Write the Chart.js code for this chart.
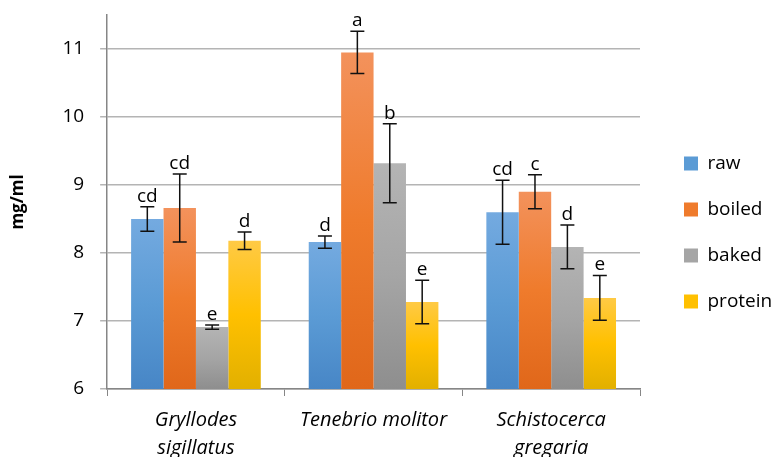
<!DOCTYPE html>
<html>
<head>
<meta charset="utf-8">
<script src="https://cdn.jsdelivr.net/npm/chart.js@4.4.1/dist/chart.umd.min.js"></script>
<style>
  html, body { margin: 0; padding: 0; background: #fff; overflow: hidden; }
  #wrap { width: 774px; height: 457px; overflow: hidden; }
  #box { width: 774px; height: 472px; position: relative; }
</style>
</head>
<body>
<div id="wrap"><div id="box"><canvas id="grafico"></canvas></div></div>
<script>
// dados
const especies = [['Gryllodes', 'sigillatus'], 'Tenebrio molitor', ['Schistocerca', 'gregaria']];
const nomesSeries = ['raw', 'boiled', 'baked', 'protein'];

const valoresRaw = [8.50, 8.16, 8.60];
const valoresBoiled = [8.66, 10.95, 8.90];
const valoresBaked = [6.91, 9.32, 8.09];
const valoresProtein = [8.18, 7.28, 7.34];

const erroRaw = [0.18, 0.09, 0.47];
const erroBoiled = [0.50, 0.31, 0.25];
const erroBaked = [0.03, 0.58, 0.32];
const erroProtein = [0.13, 0.32, 0.33];

const letrasRaw = ['cd', 'd', 'cd'];
const letrasBoiled = ['cd', 'a', 'c'];
const letrasBaked = ['e', 'b', 'd'];
const letrasProtein = ['d', 'e', 'e'];

const ticksY = [6, 7, 8, 9, 10, 11];

// cores: [topo, meio, base] do degradê de cada barra
const cores = [
  ['#74aae0', '#5b9bd5', '#4786c6'],
  ['#f3925c', '#ef7b2c', '#e0671a'],
  ['#b4b4b4', '#a5a5a5', '#8e8e8e'],
  ['#ffca45', '#ffc000', '#e2b000']
];

const FONTE = '"Open Sans", Lato, sans-serif';
const LARGURA_LEGENDA = 134;  // espaço reservado à direita para a legenda
const GAP_LEGENDA = 44;       // distância entre o fim do gráfico e os quadradinhos
const SUBIR_LEGENDA = 11;     // a legenda fica um pouco acima do centro

function degrade(i) {
  return (context) => {
    const chart = context.chart;
    const area = chart.chartArea;
    if (!area || context.parsed == null) return cores[i][1];
    const yTopo = chart.scales.y.getPixelForValue(context.parsed.y);
    const g = chart.ctx.createLinearGradient(0, yTopo, 0, area.bottom);
    g.addColorStop(0, cores[i][0]);
    g.addColorStop(0.5, cores[i][1]);
    g.addColorStop(1, cores[i][2]);
    return g;
  };
}

const series = [
  { valores: valoresRaw, erros: erroRaw, letras: letrasRaw },
  { valores: valoresBoiled, erros: erroBoiled, letras: letrasBoiled },
  { valores: valoresBaked, erros: erroBaked, letras: letrasBaked },
  { valores: valoresProtein, erros: erroProtein, letras: letrasProtein }
];

// ajusta largura e posição da legenda
const pluginLegenda = {
  id: 'posLegenda',
  beforeLayout(chart) {
    const lg = chart.legend;
    if (lg && !lg._ajustado) {
      const fitOriginal = lg.fit.bind(lg);
      lg.fit = function () { fitOriginal(); this.width = LARGURA_LEGENDA; };
      lg._ajustado = true;
    }
  },
  afterLayout(chart) {
    const lg = chart.legend;
    const pad = lg.options.labels.padding;
    lg.left = chart.chartArea.right + GAP_LEGENDA - pad;
    lg.right = lg.left + LARGURA_LEGENDA;
    lg.top -= SUBIR_LEGENDA;
    lg.bottom -= SUBIR_LEGENDA;
  }
};

// desenha as barras de erro e as letras de significância
const pluginErros = {
  id: 'erros',
  afterDatasetsDraw(chart) {
    const ctx = chart.ctx;
    const y = chart.scales.y;
    ctx.save();
    series.forEach((s, di) => {
      const meta = chart.getDatasetMeta(di);
      meta.data.forEach((bar, j) => {
        const x = bar.x;
        const yAlto = y.getPixelForValue(s.valores[j] + s.erros[j]);
        const yBaixo = y.getPixelForValue(s.valores[j] - s.erros[j]);
        ctx.strokeStyle = '#111';
        ctx.lineWidth = 1.5;
        ctx.beginPath();
        ctx.moveTo(x, yAlto); ctx.lineTo(x, yBaixo);
        ctx.moveTo(x - 7, yAlto); ctx.lineTo(x + 7, yAlto);
        ctx.moveTo(x - 7, yBaixo); ctx.lineTo(x + 7, yBaixo);
        ctx.stroke();
        ctx.fillStyle = '#000';
        ctx.font = '19px ' + FONTE;
        ctx.textAlign = 'center';
        ctx.textBaseline = 'alphabetic';
        ctx.fillText(s.letras[j], x, yAlto - 5);
      });
    });
    ctx.restore();
  }
};

new Chart(document.getElementById('grafico'), {
  type: 'bar',
  data: {
    labels: especies,
    datasets: series.map((s, i) => ({
      label: nomesSeries[i],
      data: s.valores,
      backgroundColor: degrade(i),
      borderWidth: 0,
      barPercentage: 1,
      categoryPercentage: 0.73
    }))
  },
  options: {
    responsive: true,
    maintainAspectRatio: false,
    animation: false,
    layout: { padding: { top: 15, left: 8, right: 0, bottom: 0 } },
    scales: {
      x: {
        grid: { offset: true, drawOnChartArea: false, color: '#868686', tickLength: 7 },
        border: { color: '#868686', width: 1.5 },
        ticks: {
          color: '#000',
          font: { family: FONTE, size: 20, style: 'italic', lineHeight: 1.4 },
          padding: 10,
          maxRotation: 0
        }
      },
      y: {
        min: 6,
        max: 11.5,
        afterBuildTicks: (axis) => { axis.ticks = ticksY.map(v => ({ value: v })); },
        afterFit: (axis) => { axis.paddingTop = 0; axis.paddingBottom = 0; },
        grid: { color: '#b4b4b4', lineWidth: 1.5, tickLength: 7 },
        border: { color: '#868686', width: 1.5 },
        ticks: { color: '#000', font: { family: FONTE, size: 19 }, padding: 16 },
        title: {
          display: true,
          text: 'mg/ml',
          color: '#000',
          font: { family: FONTE, size: 17, weight: 'bold' },
          padding: { top: 0, bottom: 18 }
        }
      }
    },
    plugins: {
      legend: {
        position: 'right',
        labels: {
          color: '#000',
          font: { family: FONTE, size: 19 },
          boxWidth: 14,
          boxHeight: 14,
          padding: 27,
          generateLabels: (chart) => nomesSeries.map((n, i) => ({
            text: n,
            fillStyle: cores[i][1],
            strokeStyle: cores[i][1],
            lineWidth: 0,
            datasetIndex: i
          }))
        }
      },
      tooltip: { enabled: false }
    }
  },
  plugins: [pluginLegenda, pluginErros]
});
</script>
</body>
</html>
